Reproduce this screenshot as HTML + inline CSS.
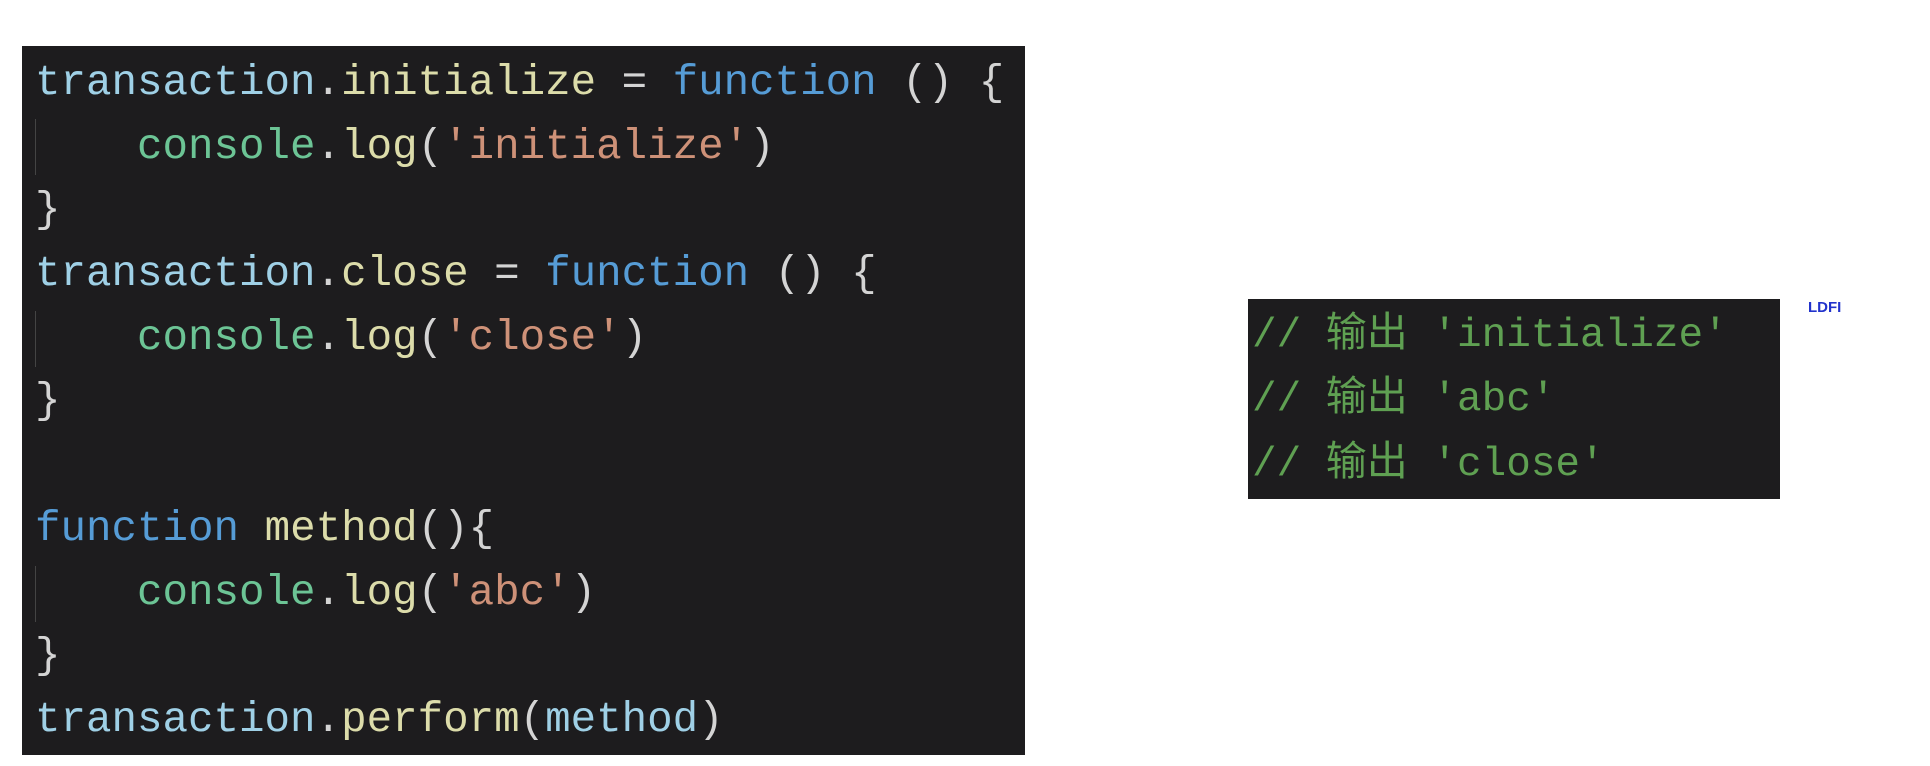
<!DOCTYPE html>
<html><head><meta charset="utf-8"><style>
body{margin:0;width:1930px;height:766px;background:#fff;position:relative;overflow:hidden;font-family:"Liberation Mono","Noto Sans CJK SC",monospace;}
#code{position:absolute;left:22px;top:46px;width:1003px;height:709px;background:#1d1c1e;}
.l{position:absolute;left:13px;font-size:42.5px;line-height:64px;height:64px;white-space:pre;color:#d4d4d4;}
.g{position:absolute;left:13px;width:1px;background:#444;}
.v{color:#9fd0e6}.p{color:#dcdcaa}.k{color:#569cd6}.c{color:#6cc495}.s{color:#ce9178}
#out{position:absolute;left:1248px;top:299px;width:532px;height:200px;background:#1d1c1e;}
.o{position:absolute;left:4px;font-size:41px;line-height:64px;white-space:pre;color:#5fa052;font-family:"Liberation Mono","Noto Sans CJK SC",monospace;}
#ld{position:absolute;left:1808px;top:299px;font:bold 15px "Liberation Sans",sans-serif;color:#2233cc;}
</style></head><body>
<div id="code">
<div class="l" style="top:5px"><span class="v">transaction</span>.<span class="p">initialize</span> = <span class="k">function</span> () {</div>
<div class="g" style="top:73px;height:56px"></div>
<div class="l" style="top:69px">    <span class="c">console</span>.<span class="p">log</span>(<span class="s">'initialize'</span>)</div>
<div class="l" style="top:132px">}</div>
<div class="l" style="top:196px"><span class="v">transaction</span>.<span class="p">close</span> = <span class="k">function</span> () {</div>
<div class="g" style="top:265px;height:56px"></div>
<div class="l" style="top:260px">    <span class="c">console</span>.<span class="p">log</span>(<span class="s">'close'</span>)</div>
<div class="l" style="top:323px">}</div>
<div class="l" style="top:451px"><span class="k">function</span> <span class="p">method</span>(){</div>
<div class="g" style="top:520px;height:56px"></div>
<div class="l" style="top:515px">    <span class="c">console</span>.<span class="p">log</span>(<span class="s">'abc'</span>)</div>
<div class="l" style="top:578px">}</div>
<div class="l" style="top:642px"><span class="v">transaction</span>.<span class="p">perform</span>(<span class="v">method</span>)</div>
</div>
<div id="out">
<div class="o" style="top:5px">// 输出 'initialize'</div>
<div class="o" style="top:69px">// 输出 'abc'</div>
<div class="o" style="top:134px">// 输出 'close'</div>
</div>
<div id="ld">LDFI</div>
</body></html>
